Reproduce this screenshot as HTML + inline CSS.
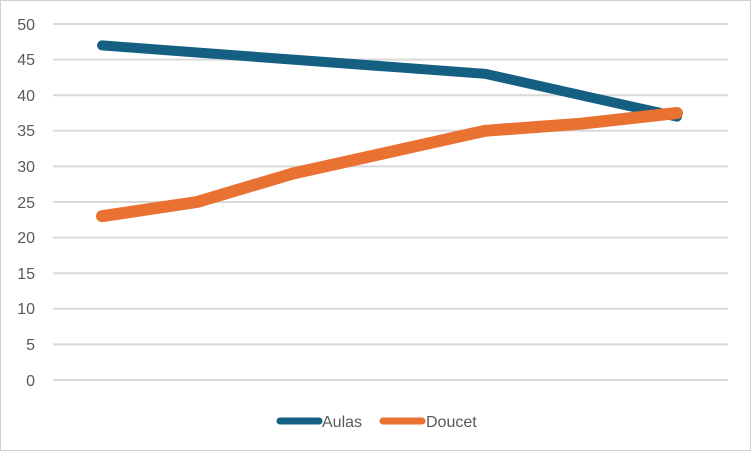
<!DOCTYPE html>
<html><head><style>body{margin:0;background:#fff}</style></head><body>
<svg width="752" height="452" xmlns="http://www.w3.org/2000/svg" font-family="Liberation Sans, sans-serif">
<rect x="0.5" y="0.5" width="750" height="450" fill="#fff" stroke="#d0d0d0"/>
<g stroke="#d9d9d9" stroke-width="2">
<line x1="53" x2="728" y1="24" y2="24"/><line x1="53" x2="728" y1="59.6" y2="59.6"/>
<line x1="53" x2="728" y1="95.2" y2="95.2"/><line x1="53" x2="728" y1="130.8" y2="130.8"/>
<line x1="53" x2="728" y1="166.4" y2="166.4"/><line x1="53" x2="728" y1="202" y2="202"/>
<line x1="53" x2="728" y1="237.6" y2="237.6"/><line x1="53" x2="728" y1="273.2" y2="273.2"/>
<line x1="53" x2="728" y1="308.8" y2="308.8"/><line x1="53" x2="728" y1="344.4" y2="344.4"/>
<line x1="53" x2="728" y1="380" y2="380"/>
</g>
<g font-size="16" fill="#595959" text-anchor="end">
<text x="35" y="30">50</text><text x="35" y="65">45</text><text x="35" y="101">40</text>
<text x="35" y="136">35</text><text x="35" y="172">30</text><text x="35" y="208">25</text>
<text x="35" y="243">20</text><text x="35" y="279">15</text><text x="35" y="314">10</text>
<text x="35" y="350">5</text><text x="35" y="386">0</text>
</g>
<polyline fill="none" stroke="#156082" stroke-width="10" stroke-linecap="round" stroke-linejoin="round"
points="102,45.4 197,52.5 293,59.6 389,66.7 485,73.8 581,95.2 677,116.6"/>
<polyline fill="none" stroke="#e97132" stroke-width="12" stroke-linecap="round" stroke-linejoin="round"
points="102,216.2 197,202 293,173.5 389,152.2 485,130.8 581,123.7 677,113"/>
<line x1="280" x2="319" y1="421" y2="421" stroke="#156082" stroke-width="7" stroke-linecap="round"/>
<text x="322" y="427" font-size="16" fill="#595959">Aulas</text>
<line x1="383" x2="422" y1="421" y2="421" stroke="#e97132" stroke-width="7" stroke-linecap="round"/>
<text x="426" y="427" font-size="16" fill="#595959">Doucet</text>
</svg>
</body></html>
